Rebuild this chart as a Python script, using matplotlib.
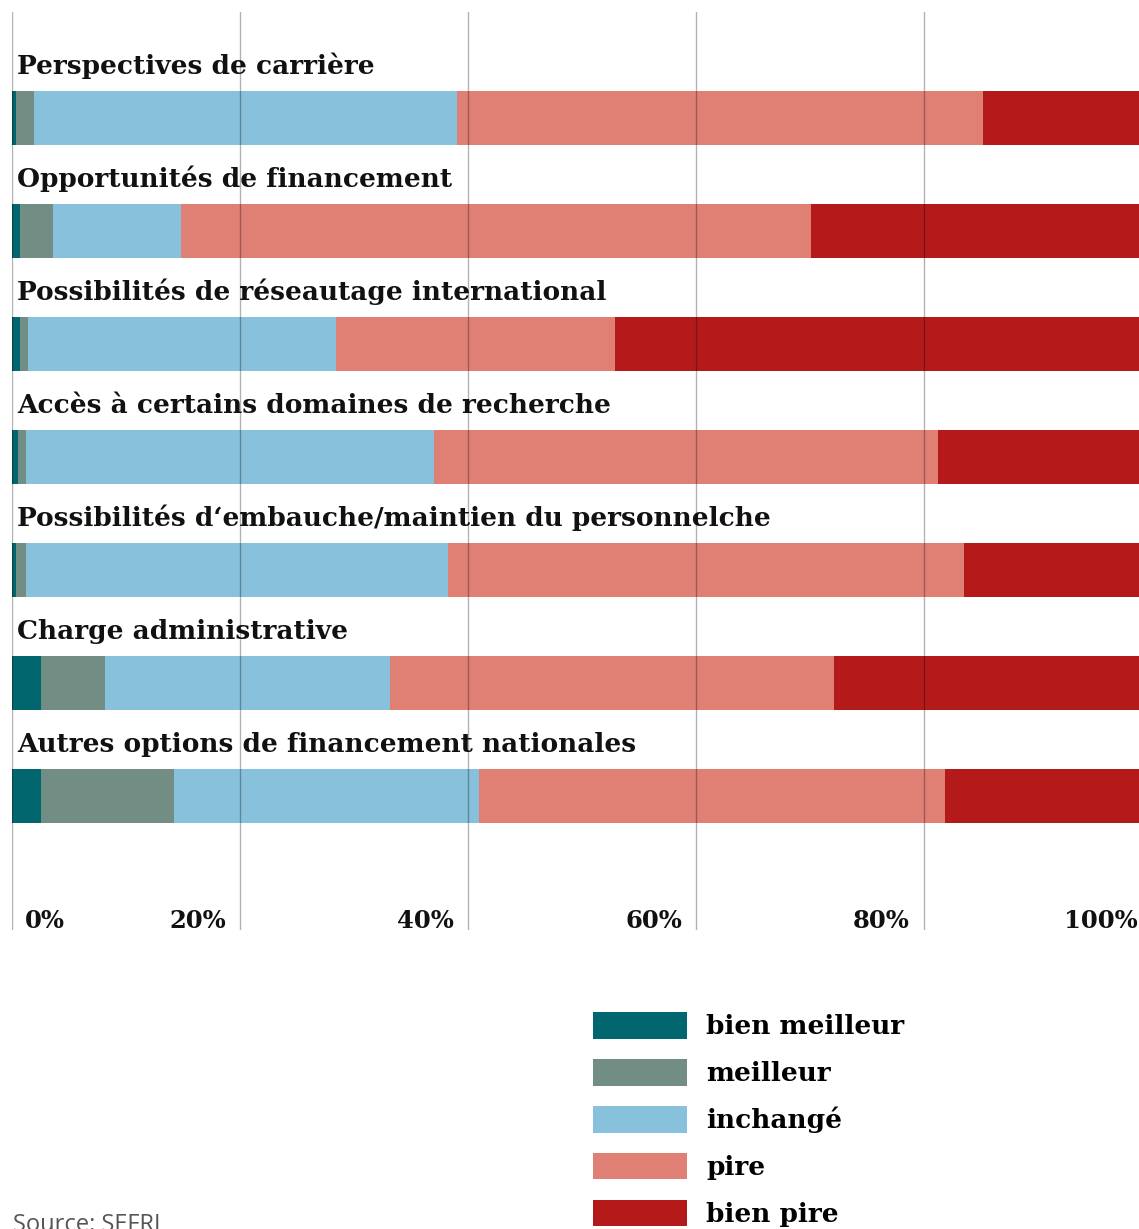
import matplotlib
matplotlib.use('Agg')
import matplotlib.pyplot as plt
import numpy as np

# categories (top to bottom)
categories = [
  'Perspectives de carrière',
  'Opportunités de financement',
  'Possibilités de réseautage international',
  'Accès à certains domaines de recherche',
  'Possibilités d‘embauche/maintien du personnelche',
  'Charge administrative',
  'Autres options de financement nationales',
]

# shares in %
bien_meilleur = [0.35, 0.7, 0.7, 0.5, 0.35, 2.5, 2.5]
meilleur = [1.6, 2.9, 0.7, 0.7, 0.9, 5.7, 11.7]
inchange = [37.1, 11.2, 27.0, 35.8, 37.0, 25.0, 26.8]
pire = [46.1, 55.3, 24.5, 44.2, 45.3, 38.9, 40.8]
bien_pire = [14.8, 29.9, 47.1, 18.8, 16.5, 27.9, 18.2]

series_names = ['bien meilleur', 'meilleur', 'inchangé', 'pire', 'bien pire']
series_colors = ['#02666f', '#728d84', '#88c1dc', '#e08074', '#b51a1b']
tick_values = [0, 20, 40, 60, 80, 100]
tick_labels = ['0%', '20%', '40%', '60%', '80%', '100%']

W, H = 1139, 1229
fig = plt.figure(figsize=(W / 100, H / 100), dpi=100)
# axes: 0% at x=12px, 100% at 1152px (cut off by figure edge)
ax = fig.add_axes([12 / W, 1 - 930 / H, 1140 / W, (930 - 12) / H])

serif = 'DejaVu Serif'
lab_size = 19
lab_weight = 'bold'
y = np.arange(len(categories))
bar_h = 0.48
left = np.zeros(len(categories))
handles = []
for name, vals, col in zip(series_names, [bien_meilleur, meilleur, inchange, pire, bien_pire], series_colors):
  b = ax.barh(y, vals, left=left, height=bar_h, color=col, edgecolor='none', label=name, zorder=1)
  handles.append(b)
  left = left + np.array(vals)

# category labels above bars
for i, cat in enumerate(categories):
  ax.annotate(cat, xy=(0, i - bar_h / 2), xytext=(3.5, 12.5), textcoords='offset points',
              ha='left', va='baseline', fontsize=lab_size, fontweight=lab_weight,
              family=serif, color='#111111', zorder=0)

ax.set_xlim(0, 100)
ax.set_ylim(7.186, -0.938)
ax.set_xticks(tick_values)
ax.set_yticks([])
ax.tick_params(axis='x', length=0, labelbottom=False)
ax.grid(axis='x', color='black', alpha=0.3, linewidth=1)
ax.set_axisbelow(False)
for s in ax.spines.values():
  s.set_visible(False)

# tick labels sit just left of the grid lines
for v, lab in zip(tick_values, tick_labels):
  if v == 0:
    ax.annotate(lab, xy=(v, 0), xycoords=('data', 'axes fraction'), xytext=(9.5, 1.5),
                textcoords='offset points', ha='left', va='baseline', fontsize=17.5,
                fontweight='bold', family=serif, color='#111111')
  else:
    ax.annotate(lab, xy=(v, 0), xycoords=('data', 'axes fraction'), xytext=(-10, 1.5),
                textcoords='offset points', ha='right', va='baseline', fontsize=17.5,
                fontweight='bold', family=serif, color='#111111')

fig.legend(handles=handles, labels=series_names, loc='upper left',
           bbox_to_anchor=(593 / W, 1 - 1012 / H), frameon=False,
           prop={'family': serif, 'size': lab_size, 'weight': lab_weight},
           handlelength=3.56, handleheight=1.17,
           handletextpad=0.72, labelspacing=0.75, borderpad=0, borderaxespad=0)

fig.text(13 / W, 1 - 1231 / H, 'Source: SEFRI', ha='left', va='baseline', fontsize=17,
         family='Open Sans', color='#555555')

fig.savefig('out.png', dpi=100)
